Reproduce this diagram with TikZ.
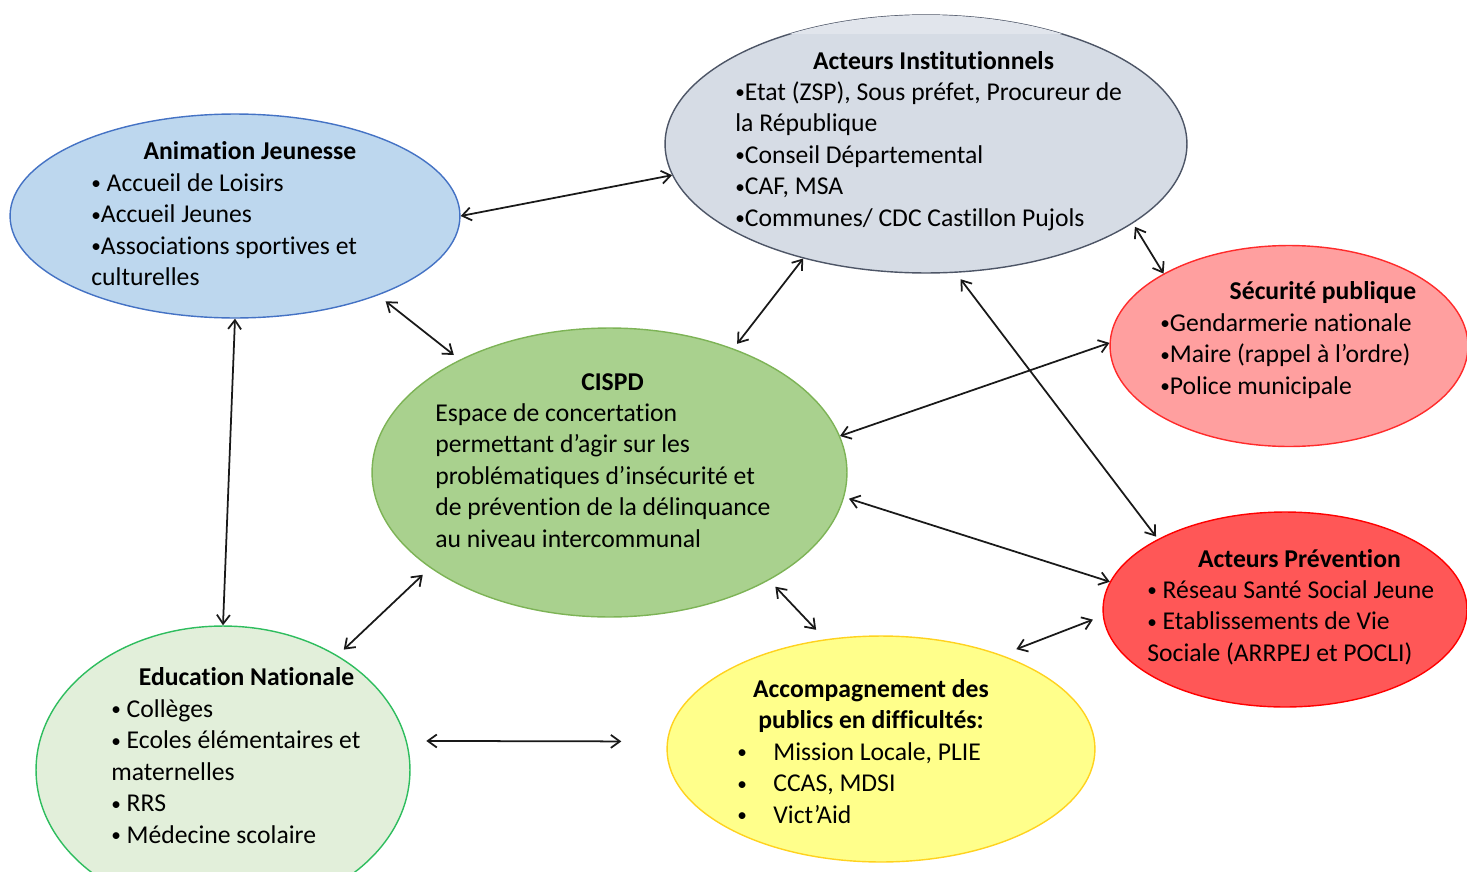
\documentclass[tikz,border=0pt]{standalone}
\usepackage{fontspec}
\setmainfont{Carlito}[Ligatures=NoCommon]
\usetikzlibrary{shapes.geometric,arrows.meta}
\definecolor{animfill}{HTML}{BDD7EE}
\definecolor{animline}{HTML}{4472C4}
\definecolor{instfill}{HTML}{D6DCE5}
\definecolor{insttop}{HTML}{E1E5EC}
\definecolor{instline}{HTML}{4D5566}
\definecolor{secufill}{HTML}{FF9F9F}
\definecolor{seculine}{HTML}{FF2B2B}
\definecolor{cispdfill}{HTML}{A9D18E}
\definecolor{cispdline}{HTML}{7DB356}
\definecolor{prevfill}{HTML}{FF5757}
\definecolor{prevline}{HTML}{FF0000}
\definecolor{accfill}{HTML}{FFFF8B}
\definecolor{accline}{HTML}{FFD21F}
\definecolor{edufill}{HTML}{E2EFDA}
\definecolor{eduline}{HTML}{2EBD5E}
\tikzset{
    bubble/.style = {draw, ellipse, inner sep=0pt, line width=0.8pt},
    heading/.style = {anchor=north, align=center, inner sep=0pt,
        font=\fontsize{14.6}{17.9}\selectfont\bfseries},
    itemtext/.style = {anchor=north west, align=left, inner sep=0pt,
        font=\fontsize{14.6}{17.9}\selectfont},
    link/.style = {draw, line width=1pt, color=black!90,
        {Straight Barb[length=1.8mm,width=2.6mm]}-{Straight Barb[length=1.8mm,width=2.6mm]}}
}
\newcommand{\bt}{\raisebox{0.12ex}{\scalebox{0.75}{•}}}
\newcommand{\bul}{\makebox[0.72cm][l]{\bt}}

\begin{document}
\begin{tikzpicture}[x=0.02cm, y=-0.02cm]
    \useasboundingbox (0,0) rectangle (1467,872);
    % bubbles
    \node[bubble, draw=animline, fill=animfill, minimum width=9cm, minimum height=4.08cm] (anim) at (235,216) {};
    \node[bubble, draw=instline, fill=instfill, minimum width=10.44cm, minimum height=5.16cm] (inst) at (926,144) {};
    \node[bubble, draw=seculine, fill=secufill, minimum width=7.16cm, minimum height=4.02cm] (secu) at (1289,346) {};
    \node[bubble, draw=cispdline, fill=cispdfill, minimum width=9.5cm, minimum height=5.78cm] (cispd) at (609.5,472.5) {};
    \node[bubble, draw=prevline, fill=prevfill, minimum width=7.28cm, minimum height=3.9cm] (prev) at (1285,609.5) {};
    \node[bubble, draw=accline, fill=accfill, minimum width=8.56cm, minimum height=4.52cm] (acc) at (881,749) {};
    \node[bubble, draw=eduline, fill=edufill, minimum width=7.48cm, minimum height=5.76cm] (edu) at (223,770) {};
    \begin{scope}
        \clip (600,0) rectangle (1250,33);
        \fill[insttop] (inst.center) ellipse [x radius=261, y radius=129];
    \end{scope}

    % links
    \draw[link] (anim.0) -- (inst.187);
    \draw[link, shorten <=0.19cm, shorten >=0.15cm] (anim.331) -- (cispd.143);
    \draw[link] (anim.south) -- (edu.north);
    \draw[link, shorten >=0.12cm] (inst.223) -- (cispd.45);
    \draw[link, shorten <=0.08cm] (inst.339) -- (secu.150);
    \draw[link, shorten <=0.16cm, shorten >=0.06cm] (inst.283) -- (prev.151);
    \draw[link] (cispd.9) -- (secu.179);
    \draw[link, shorten <=0.1cm] (cispd.354) -- (prev.171);
    \draw[link, shorten <=0.18cm, shorten >=0.26cm] (cispd.326) -- (acc.117);
    \draw[link, shorten <=0.2cm, shorten >=0.17cm] (cispd.208) -- (edu.45);
    \draw[link, shorten <=0.39cm, shorten >=0.91cm] (edu.9) -- (acc.178);
    \draw[link, shorten <=0.32cm, shorten >=0.21cm] (acc.38) -- (prev.182);

    % texts
    \node[heading] (anim-head) at (250,137) {\strut Animation Jeunesse};
    \node[itemtext] (anim-list) at (91,169) {\strut\bt{} Accueil de Loisirs\\\bt Accueil Jeunes\\\bt Associations sportives et\\culturelles};
    \node[heading] (inst-head) at (933.5,47) {\strut Acteurs Institutionnels};
    \node[itemtext] (inst-list) at (735,78) {\strut\bt Etat (ZSP), Sous préfet, Procureur de\\la République\\\bt Conseil Départemental\\\bt CAF, MSA\\\bt Communes/ CDC Castillon Pujols};
    \node[heading] (secu-head) at (1323,277) {\strut Sécurité publique};
    \node[itemtext] (secu-list) at (1160,309) {\strut\bt Gendarmerie nationale\\\bt Maire (rappel à l’ordre)\\\bt Police municipale};
    \node[heading] (cispd-head) at (612.5,368) {\strut CISPD};
    \node[itemtext] (cispd-list) at (435,399) {\strut Espace de concertation\\permettant d’agir sur les\\problématiques d’insécurité et\\de prévention de la délinquance\\au niveau intercommunal};
    \node[heading] (prev-head) at (1299.5,545) {\strut Acteurs Prévention};
    \node[itemtext] (prev-list) at (1147,576) {\strut\bt{} Réseau Santé Social Jeune\\\bt{} Etablissements de Vie\\Sociale (ARRPEJ et POCLI)};
    \node[heading] (acc-head) at (871,675) {\strut Accompagnement des\\publics en difficultés:};
    \node[itemtext] (acc-list) at (737,738) {\strut\bul Mission Locale, PLIE\\\bul CCAS, MDSI\\\bul Vict’Aid};
    \node[heading] (edu-head) at (246.5,663) {\strut Education Nationale};
    \node[itemtext] (edu-list) at (111,695) {\strut\bt{} Collèges\\\bt{} Ecoles élémentaires et\\maternelles\\\bt{} RRS\\\bt{} Médecine scolaire};
\end{tikzpicture}
\end{document}
